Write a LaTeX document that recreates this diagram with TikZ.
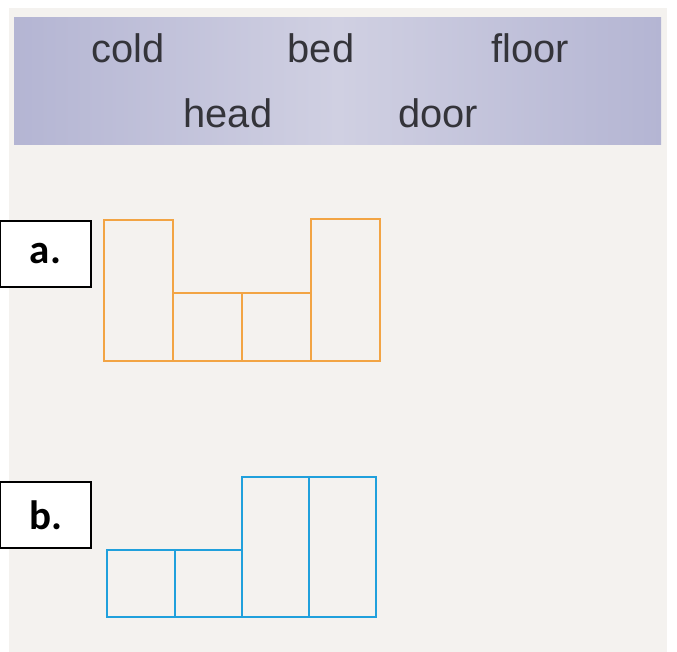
\documentclass[tikz,border=0pt]{standalone}
\usepackage{fontspec}
\setmainfont{Liberation Sans}
\newfontfamily\tagfont{Carlito}
\usepackage{xcolor}
\usetikzlibrary{positioning}

\definecolor{paper}{RGB}{244,242,239}
\definecolor{band}{RGB}{180,181,211}
\definecolor{bandlight}{RGB}{208,208,226}
\definecolor{wordgray}{RGB}{52,52,58}
\definecolor{cellorange}{RGB}{242,164,68}
\definecolor{cellblue}{RGB}{32,160,220}

\begin{document}
\begin{tikzpicture}[
  x=0.03cm,
  y=-0.03cm,
  word/.style={text=wordgray, font=\fontsize{34}{34}\selectfont, inner sep=0pt},
  tagbox/.style={draw=black, fill=white, line width=1.7pt, minimum width=2.73cm, minimum height=1.98cm,
    font=\tagfont\bfseries\fontsize{35}{35}\selectfont, inner sep=0pt},
  orangecell/.style={draw=cellorange, line width=2pt},
  bluecell/.style={draw=cellblue, line width=2pt}
]

% Page and header band
\useasboundingbox (0,0) rectangle (677,652);
\fill[white] (0,0) rectangle (677,652);
\fill[paper] (9,8) rectangle (667,652);
\shade[left color=band, right color=band, middle color=bandlight] (14,18) rectangle (661,145);

% Words
\node[word] (cold) at (128,48) {cold};
\node[word] (bed) at (321,48) {bed};
\node[word] (floor) at (530,48) {floor};
\node[word] (head) at (228,113) {head};
\node[word] (door) at (438,113) {door};

% Tags
\node[tagbox] (taga) at (45.5,254) {a.};
\node[tagbox] (tagb) at (45.5,515) {b.};

% Shape a
\draw[orangecell] (104,220) rectangle (173,361);
\draw[orangecell] (173,293) rectangle (242,361);
\draw[orangecell] (242,293) rectangle (311,361);
\draw[orangecell] (311,219) rectangle (380,361);

% Shape b
\draw[bluecell] (107,550) rectangle (175,617);
\draw[bluecell] (175,550) rectangle (242,617);
\draw[bluecell] (242,477) rectangle (309,617);
\draw[bluecell] (309,477) rectangle (376,617);

\end{tikzpicture}
\end{document}
